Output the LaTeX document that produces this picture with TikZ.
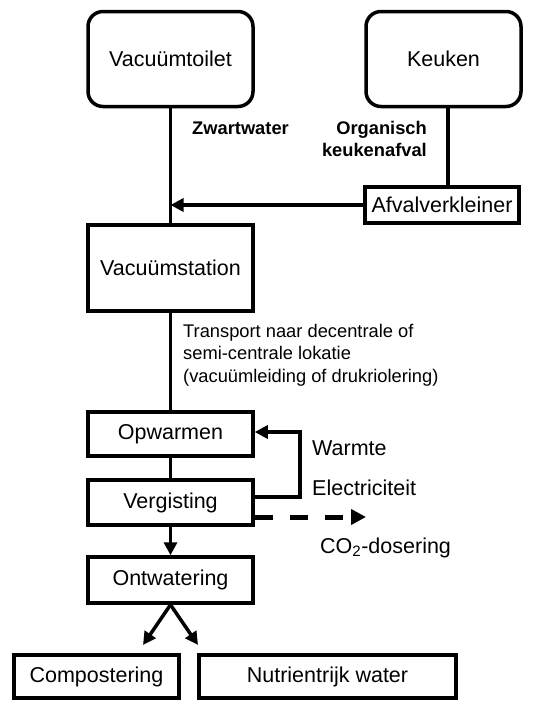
\documentclass[tikz,border=0pt]{standalone}
\usepackage{fontspec}
\setmainfont{Liberation Sans}
\usetikzlibrary{arrows.meta}
\begin{document}
\begin{tikzpicture}[x=1pt,y=-1pt,
  box/.style={draw,line width=3.5pt,inner sep=0pt,font=\fontsize{21.5}{25}\selectfont},
  rbox/.style={box,rounded corners=15pt},
  lbl/.style={font=\fontsize{18.3}{22.5}\selectfont,inner sep=0pt},
  blbl/.style={font=\fontsize{18.3}{22.5}\selectfont\bfseries,inner sep=0pt},
  lblbig/.style={font=\fontsize{21.5}{25}\selectfont,inner sep=0pt},
  conn/.style={line width=3.5pt},
  tip/.style={-{Triangle[length=13pt,width=13pt]}},
  bigtip/.style={-{Triangle[length=15pt,width=15pt]}}
]
\useasboundingbox (0,0) rectangle (549,702);
% boxes
\node[rbox,minimum width=165pt,minimum height=95pt] (toilet) at (170.5,59) {Vacuümtoilet};
\node[rbox,minimum width=155pt,minimum height=95pt] (keuken) at (443.5,59) {Keuken};
\node[box,minimum width=154pt,minimum height=36pt] (afval) at (442,205) {Afvalverkleiner};
\node[box,minimum width=165pt,minimum height=86pt] (station) at (170.5,268) {Vacuümstation};
\node[box,minimum width=165pt,minimum height=44pt] (opw) at (170.5,434) {Opwarmen};
\node[box,minimum width=165pt,minimum height=45pt] (verg) at (170.5,502.5) {Vergisting};
\node[box,minimum width=165pt,minimum height=46pt] (ontw) at (170.5,580) {Ontwatering};
\node[box,minimum width=165pt,minimum height=43pt] (comp) at (96.5,676.5) {Compostering};
\node[box,minimum width=257pt,minimum height=43pt] (nutr) at (327.5,676.5) {Nutrientrijk water};
% helper coordinates
\coordinate (j) at (170.5,205);
\coordinate (kx) at (448,0);
\coordinate (a1) at (300,497);
\coordinate (a2) at (300,432);
\coordinate (co) at (366,517);
\coordinate (c1) at (143,645);
\coordinate (c2) at (198,645);
% connectors
\draw[conn] (toilet.south) -- (station.north);
\draw[conn] (keuken.south -| kx) -- (afval.north -| kx);
\draw[conn,tip] (afval.west) -- (j);
\draw[conn] (station.south) -- (opw.north);
\draw[conn] (opw.south) -- (verg.north);
\draw[conn,tip] (verg.south) -- (ontw.north);
\draw[conn,tip] (verg.east |- a1) -- (a1) -- (a2) -- (opw.east |- a2);
\draw[line width=5pt,dash pattern=on 18pt off 17pt,bigtip] (verg.east |- co) -- (co);
\draw[conn,tip] (ontw.south) -- (c1);
\draw[conn,tip] (ontw.south) -- (c2);
% labels
\node[blbl,anchor=west] (lz) at (192,128) {Zwartwater};
\node[blbl,anchor=east,align=right] (lo) at (427,139) {Organisch\\keukenafval};
\node[lbl,anchor=west,align=left] (lt) at (183,355) {Transport naar decentrale of\\semi-centrale lokatie\\(vacuümleiding of drukriolering)};
\node[lblbig,anchor=west] (lw) at (312,448) {Warmte};
\node[lblbig,anchor=west] (le) at (312,488) {Electriciteit};
\node[lblbig,anchor=west] (lc) at (320,548) {CO\textsubscript{2}-dosering};
\end{tikzpicture}
\end{document}
